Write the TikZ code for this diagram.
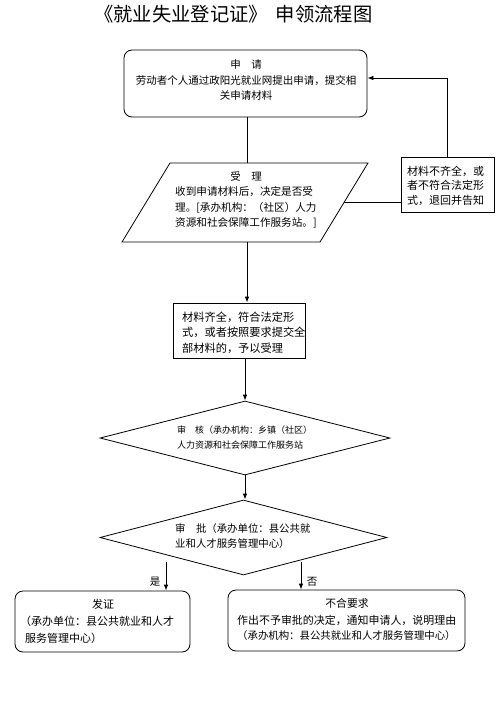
\documentclass[tikz,border=0pt]{standalone}
\usepackage{fontspec}
\setmainfont{Noto Sans CJK SC}
\usetikzlibrary{shapes.geometric,arrows.meta}
\tikzset{
  ln/.style={line width=0.8pt},
  arr/.style={line width=0.8pt,-{Latex[length=6pt,width=4.5pt]}},
  rbox/.style={draw,line width=0.8pt,rounded corners=8pt,inner sep=0pt},
  sbox/.style={draw,line width=0.8pt,inner sep=0pt},
  dia/.style={draw,line width=0.8pt,shape=diamond,inner sep=0pt,aspect=1},
  txt/.style={inner sep=0pt,anchor=west},
  ctxt/.style={inner sep=0pt,anchor=center},
}
\newcommand{\fs}[1]{\fontsize{#1}{#1}\selectfont}
\begin{document}
\begin{tikzpicture}[x=1pt,y=-1pt]
\useasboundingbox (0,0) rectangle (498,712);
% title
\node[txt] (title) at (94,14) {\fs{19.3}《就业失业登记证》\hspace{8pt}申领流程图};
% box 1
\node[rbox,minimum width=243pt,minimum height=67pt] (apply) at (245.5,83.5) {};
\node[ctxt] (a1) at (246,65) {\fs{10.5}申　请};
\node[ctxt] (a2) at (246,80.5) {\fs{10.5}劳动者个人通过政阳光就业网提出申请，提交相};
\node[ctxt] (a3) at (246,96) {\fs{10.5}关申请材料};
% parallelogram
\coordinate (pA) at (170,163);
\coordinate (pB) at (368,163);
\coordinate (pC) at (320,242);
\coordinate (pD) at (122,242);
\draw[ln] (pA) -- (pB) -- (pC) -- (pD) -- cycle;
\coordinate (acctop) at (247,163);
\coordinate (accbot) at (247,242);
\coordinate (accright) at (344,202);
\node[ctxt] (b1) at (246,176) {\fs{10.5}受　理};
\node[txt] (b2) at (175,192) {\fs{10.6}收到申请材料后，决定是否受};
\node[txt] (b3) at (175,207.5) {\fs{10.6}理。[承办机构：（社区）人力};
\node[txt] (b4) at (175,223) {\fs{10.6}资源和社会保障工作服务站。]};
% reject box
\node[sbox,minimum width=93pt,minimum height=55pt] (rej) at (447.5,184.5) {};
\node[txt] (r1) at (407,171) {\fs{11}材料不齐全，或};
\node[txt] (r2) at (407,185.5) {\fs{11}者不符合法定形};
\node[txt] (r3) at (407,200) {\fs{11}式，退回并告知};
% ok box
\node[sbox,minimum width=132pt,minimum height=55pt] (ok) at (239,330.5) {};
\node[txt] (o1) at (182,317) {\fs{11.2}材料齐全，符合法定形};
\node[txt] (o2) at (182,332.5) {\fs{11.2}式，或者按照要求提交全};
\node[txt] (o3) at (182,348) {\fs{11.2}部材料的，予以受理};
% diamond 1
\node[dia,minimum width=290pt,minimum height=74pt] (chk) at (245,438) {};
\node[txt] (c1) at (177,430) {\fs{9}审　核（承办机构：乡镇（社区）};
\node[txt] (c2) at (177,445) {\fs{9}人力资源和社会保障工作服务站};
% diamond 2
\node[dia,minimum width=287pt,minimum height=75pt] (appr) at (243.5,537.5) {};
\node[txt] (d1) at (175,529) {\fs{10.4}审　批（承办单位：县公共就};
\node[txt] (d2) at (175,544) {\fs{10.4}业和人才服务管理中心）};
% yes box
\node[rbox,minimum width=175pt,minimum height=61pt] (yes) at (102.5,621.5) {};
\node[ctxt] (y1) at (103,604) {\fs{11}发证};
\node[txt] (y2) at (20,621) {\fs{11}（承办单位：县公共就业和人才};
\node[txt] (y3) at (25,638) {\fs{11}服务管理中心）};
% no box
\node[rbox,minimum width=237pt,minimum height=61pt] (no) at (346.5,620.5) {};
\node[ctxt] (n1) at (347,603) {\fs{10.8}不合要求};
\node[txt] (n2) at (237,620) {\fs{10.95}作出不予审批的决定，通知申请人，说明理由};
\node[txt] (n3) at (237,636) {\fs{10.4}（承办机构：县公共就业和人才服务管理中心）};
% connectors
\draw[ln] (apply.south -| acctop) -- (acctop);
\draw[arr] (accbot) -- (ok.north -| accbot);
\draw[ln] (accright) -- (accright -| rej.west);
\coordinate (fb) at (447,78);
\draw[arr] (rej.north -| fb) -- (fb) -- (fb -| apply.east);
\draw[arr] (ok.south -| chk.north) -- (chk.north);
\draw[arr] (chk.south) -- (chk.south |- appr.north);
\coordinate (yesfrom) at (166,562);
\coordinate (nofrom) at (301,562);
\draw[arr] (yesfrom) -- (yesfrom |- yes.north);
\draw[arr] (nofrom) -- (nofrom |- no.north);
\node[ctxt] (lyes) at (155,582) {\fs{10.5}是};
\node[ctxt] (lno) at (312,582) {\fs{10.5}否};
\end{tikzpicture}
\end{document}
